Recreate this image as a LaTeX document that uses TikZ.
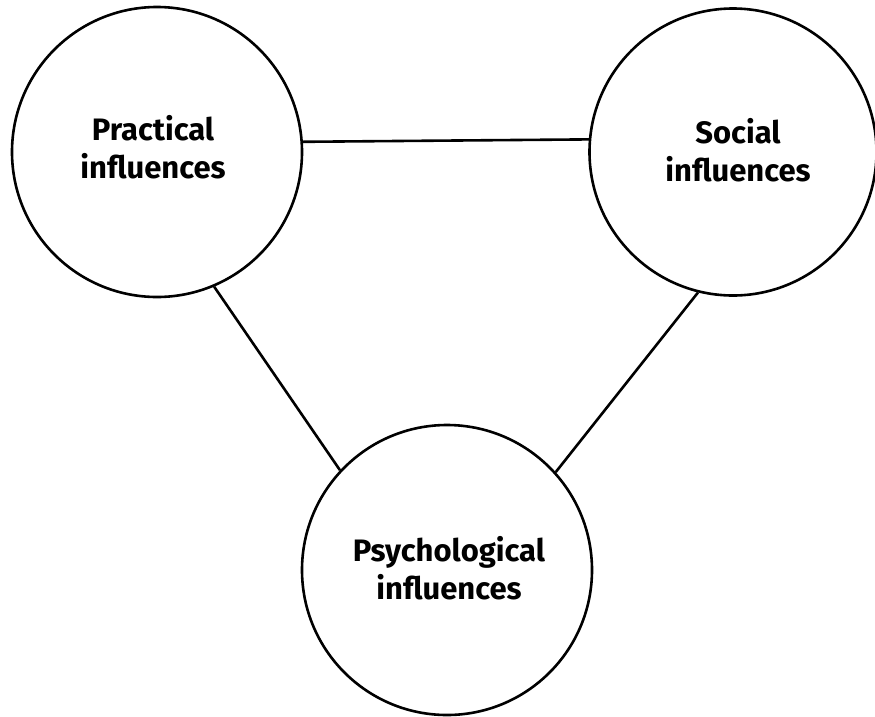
\documentclass[tikz,border=0pt]{standalone}
\usepackage{fontspec}
\setmainfont{Fira Sans}
\begin{document}
\begin{tikzpicture}[x=1pt,y=-1pt,
  infl/.style={circle,draw=black,line width=2.6pt,inner sep=0pt},
  lbl/.style={font=\bfseries\fontsize{31}{38}\selectfont,align=center,inner sep=0pt},
  link/.style={draw=black,line width=2.6pt}]
\useasboundingbox (0,0) rectangle (875,716);
\node[infl,minimum size=290pt] (p) at (157,152) {};
\node[infl,minimum size=287pt] (s) at (733,152) {};
\node[infl,minimum size=290pt] (y) at (447,570) {};
\node[lbl] (pt) at (153,147) {Practical\\influences};
\node[lbl] (st) at (738,150) {Social\\influences};
\node[lbl] (yt) at (449,568) {Psychological\\influences};
\draw[link] (p.4.3) -- (s.175.6);
\draw[link] (p.-67) -- (y.137.5);
\draw[link] (s.-104.5) -- (y.42.8);
\end{tikzpicture}
\end{document}
